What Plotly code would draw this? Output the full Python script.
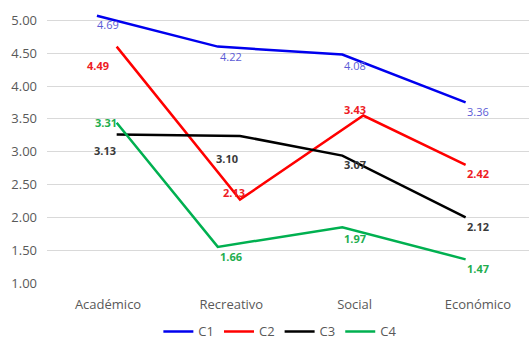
import plotly.graph_objects as go

categories = ["Académico", "Recreativo", "Social", "Económico"]
series_names = ["C1", "C2", "C3", "C4"]
c1_values = [5.07, 4.60, 4.48, 3.75]
c2_values = [4.60, 2.27, 3.55, 2.80]
c3_values = [3.26, 3.24, 2.94, 2.00]
c4_values = [3.44, 1.55, 1.85, 1.36]
c1_labels = ["4.69", "4.22", "4.08", "3.36"]
c2_labels = ["4.49", "2.13", "3.43", "2.42"]
c3_labels = ["3.13", "3.10", "3.07", "2.12"]
c4_labels = ["3.31", "1.66", "1.97", "1.47"]
y_ticks = [1.0, 1.5, 2.0, 2.5, 3.0, 3.5, 4.0, 4.5, 5.0]

# style: per-series horizontal offsets of the vertices and label shifts (px)
x_offsets = [
    [-0.09, -0.11, -0.10, -0.10],
    [0.07, 0.07, 0.07, -0.10],
    [0.07, 0.07, -0.10, -0.10],
    [0.07, -0.11, -0.10, -0.10],
]
label_xshift = [[0, 0, 0, 0], [-10, 3, 0, 0], [-3, -4, 0, 0], [-2, 0, 0, 0]]
label_yshift = [[-9, -10, -11, -9], [-19, 7, 6, -9], [-16, -23, -9, -9], [0, -10, -11, -9]]
line_colors = ["#0000EE", "#FF0000", "#000000", "#00B050"]
label_colors = ["#5B5BD6", "#EE1C24", "#3A3A3A", "#1FAE4E"]
label_bold = [False, True, True, True]

values = [c1_values, c2_values, c3_values, c4_values]
labels = [c1_labels, c2_labels, c3_labels, c4_labels]

fig = go.Figure()
annotations = []
for s in range(4):
    xs = [i + x_offsets[s][i] for i in range(len(categories))]
    fig.add_trace(go.Scatter(
        x=xs, y=values[s], mode="lines", name=series_names[s],
        line=dict(color=line_colors[s], width=2.5),
    ))
    for i in range(len(categories)):
        txt = labels[s][i]
        if label_bold[s]:
            txt = "<b>" + txt + "</b>"
        annotations.append(dict(
            x=i, y=values[s][i], xref="x", yref="y", text=txt, showarrow=False,
            xshift=label_xshift[s][i], yshift=label_yshift[s][i],
            font=dict(family="Open Sans", size=11, color=label_colors[s]),
        ))

fig.update_layout(
    width=529, height=341,
    margin=dict(l=47, r=0, t=0, b=57.5, autoexpand=False),
    paper_bgcolor="white", plot_bgcolor="white",
    font=dict(family="Open Sans", size=13, color="#595959"),
    annotations=annotations,
    showlegend=True,
    legend=dict(orientation="h", x=0.53, xref="container", xanchor="center",
                y=0.028, yref="container", yanchor="middle",
                font=dict(size=13, color="#595959"), itemwidth=30,
                bgcolor="rgba(0,0,0,0)"),
    xaxis=dict(range=[-0.495, 3.414], tickmode="array", tickvals=[0, 1, 2, 3],
               ticktext=categories, showgrid=False, zeroline=False, showline=False,
               automargin=False,
               ticks="", ticklabelstandoff=12, tickfont=dict(size=13, color="#595959")),
    yaxis=dict(range=[1.0, 5.31], tickmode="array", tickvals=y_ticks,
               tickformat=".2f", showgrid=True, gridcolor="#D9D9D9", gridwidth=1,
               zeroline=False, showline=False, ticks="", ticklabelstandoff=9,
               automargin=False,
               tickfont=dict(size=13, color="#595959")),
)

fig.write_html("out.html")
